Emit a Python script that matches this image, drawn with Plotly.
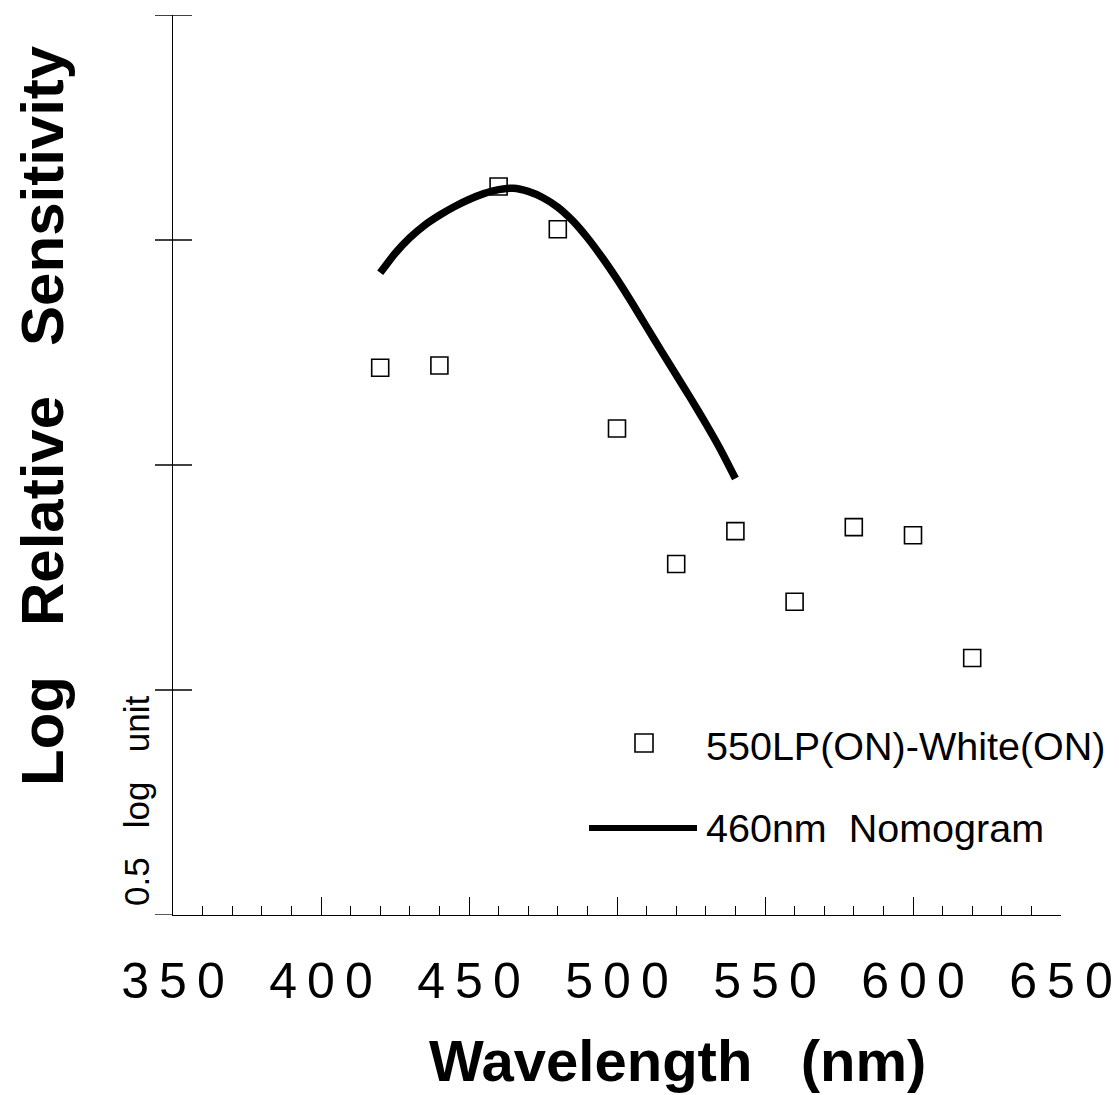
import plotly.graph_objects as go

# Data
wavelengths = [420, 440, 460, 480, 500, 520, 540, 560, 580, 600, 620]
sensitivity = [1.216, 1.221, 1.619, 1.524, 1.081, 0.780, 0.853, 0.696, 0.862, 0.844, 0.571]

nomo_wl = [420, 425, 430, 435, 440, 445, 450, 455, 460, 465, 470, 475, 480,
           485, 490, 495, 500, 505, 510, 515, 520, 525, 530, 535, 540]
nomo_val = [1.427, 1.470, 1.505, 1.533, 1.555, 1.574, 1.590, 1.603, 1.612, 1.615, 1.608, 1.594, 1.573,
            1.543, 1.505, 1.461, 1.413, 1.361, 1.307, 1.253, 1.200, 1.147, 1.092, 1.034, 0.970]

x_ticks = [350, 400, 450, 500, 550, 600, 650]
y_cross_ticks = [0.5, 1.0, 1.5, 2.0]

FONT = "Liberation Sans, Arial, Helvetica, sans-serif"
TS = "\u2009"
NB = "\u00a0"

fig = go.Figure()

fig.add_trace(go.Scatter(
    x=nomo_wl, y=nomo_val, mode="lines",
    line=dict(color="black", width=7.5, shape="spline", smoothing=0.6),
    showlegend=False, name="460nm Nomogram"))

fig.add_trace(go.Scatter(
    x=wavelengths, y=sensitivity, mode="markers",
    marker=dict(symbol="square-open", size=17, color="black", line=dict(width=1.6, color="black")),
    showlegend=False, name="550LP(ON)-White(ON)"))

fig.update_xaxes(
    range=[350, 650], showgrid=False, zeroline=False,
    showline=True, linecolor="black", linewidth=1.3,
    ticks="inside", ticklen=18, tickwidth=1.3, tickcolor="black",
    tickvals=x_ticks, ticktext=[TS.join(str(v)) for v in x_ticks],
    tickfont=dict(family=FONT, size=50, color="black"),
    ticklabelstandoff=22,
    minor=dict(ticks="inside", ticklen=9, tickwidth=1.1, tickcolor="black", dtick=10, showgrid=False),
)
fig.update_yaxes(
    range=[0, 2], showgrid=False, zeroline=False,
    showline=True, linecolor="black", linewidth=1.3,
    ticks="", showticklabels=False,
)

shapes = []
for v in y_cross_ticks:
    shapes.append(dict(type="line", xref="x domain", yref="y",
                       x0=-18 / 888, x1=19 / 888, y0=v, y1=v,
                       line=dict(color="black", width=1.3)))
shapes.append(dict(type="line", xref="x domain", yref="y",
                   x0=-18 / 888, x1=0, y0=0, y1=0,
                   line=dict(color="black", width=1.3)))
# legend symbols
shapes.append(dict(type="rect", xref="paper", yref="paper",
                   x0=(635 - 173) / 888, x1=(653 - 173) / 888,
                   y0=(915 - 752) / 900, y1=(915 - 734) / 900,
                   line=dict(color="black", width=1.6), fillcolor="rgba(0,0,0,0)"))
shapes.append(dict(type="line", xref="paper", yref="paper",
                   x0=(589 - 173) / 888, x1=(697 - 173) / 888,
                   y0=(915 - 828) / 900, y1=(915 - 828) / 900,
                   line=dict(color="black", width=6)))

annotations = [
    dict(text=f"Log{NB*3}Relative{NB*3}Sensitivity", textangle=-90,
         xref="paper", yref="paper", x=(42 - 173) / 888, y=(915 - 416) / 900,
         xanchor="center", yanchor="middle", showarrow=False,
         font=dict(family=FONT, size=60, color="black", weight="bold")),
    dict(text=f"Wavelength{NB*3}(nm)",
         xref="paper", yref="paper", x=(677 - 173) / 888, y=(915 - 1060) / 900,
         xanchor="center", yanchor="middle", showarrow=False,
         font=dict(family=FONT, size=58, color="black", weight="bold")),
    dict(text=f"0.5{NB*3}log{NB*3}unit", textangle=-90,
         xref="paper", yref="paper", x=(136 - 173) / 888, y=(915 - 801) / 900,
         xanchor="center", yanchor="middle", showarrow=False,
         font=dict(family=FONT, size=35, color="black")),
    dict(text="550LP(ON)-White(ON)",
         xref="paper", yref="paper", x=(704 - 173) / 888, y=(915 - 746) / 900,
         xanchor="left", yanchor="middle", showarrow=False,
         font=dict(family=FONT, size=39.5, color="black")),
    dict(text=f"460nm{NB}{NB}Nomogram",
         xref="paper", yref="paper", x=(704 - 173) / 888, y=(915 - 828) / 900,
         xanchor="left", yanchor="middle", showarrow=False,
         font=dict(family=FONT, size=39.5, color="black")),
]

# page body has an 8px margin, so the figure is sized/offset to compensate
fig.update_layout(
    width=1111, height=1087,
    margin=dict(l=165, r=58, t=7, b=180),
    plot_bgcolor="white", paper_bgcolor="white",
    shapes=shapes, annotations=annotations,
    showlegend=False,
)

fig.write_html("out.html")
